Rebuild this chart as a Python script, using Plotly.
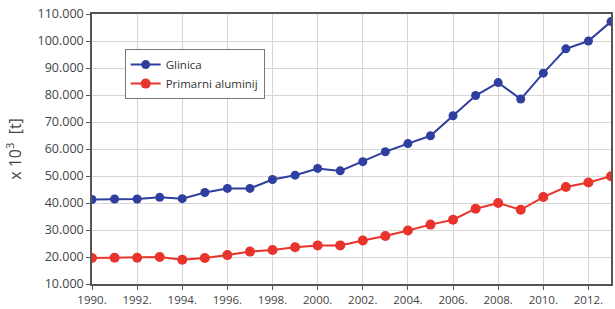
import plotly.graph_objects as go

years = list(range(1990, 2014))
glinica = [41300, 41500, 41500, 42100, 41600, 43900, 45400, 45400, 48700, 50300,
           52800, 51900, 55300, 59000, 62000, 64900, 72300, 79800, 84600, 78500,
           88100, 97100, 100000, 107200]
primarni = [19600, 19700, 19700, 20000, 19000, 19600, 20700, 22000, 22600, 23600,
            24300, 24300, 26100, 27800, 29800, 32000, 33800, 37900, 40000, 37500,
            42200, 45900, 47600, 49900]
x_ticks = list(range(1990, 2013, 2))
x_labels = [f"{y}." for y in x_ticks]
y_ticks = list(range(10000, 110001, 10000))
y_labels = [f"{v//1000}.000" for v in y_ticks]

fig = go.Figure()
fig.add_trace(go.Scatter(x=years, y=glinica, name="Glinica", mode="lines+markers",
                         line=dict(color="#2f3f9f", width=2),
                         marker=dict(color="#2f3f9f", size=9)))
fig.add_trace(go.Scatter(x=years, y=primarni, name="Primarni aluminij", mode="lines+markers",
                         line=dict(color="#e8342b", width=2),
                         marker=dict(color="#e8342b", size=10)))

fig.update_layout(
    width=615, height=309,
    margin=dict(l=92, r=2, t=14, b=25),
    paper_bgcolor="white", plot_bgcolor="white",
    font=dict(family="Open Sans, DejaVu Sans, sans-serif", color="#444", size=12),
    showlegend=True,
    legend=dict(x=0.063, y=0.87, xanchor="left", yanchor="top",
                bgcolor="white", bordercolor="#777", borderwidth=1,
                font=dict(size=11.5, color="#333"), tracegroupgap=0,
                itemwidth=30),
)
fig.update_xaxes(range=[1990, 2013], tickvals=x_ticks, ticktext=x_labels,
                 showgrid=True, gridcolor="#d6d6d6", gridwidth=1,
                 showline=True, linecolor="#555", linewidth=1.5, mirror=True,
                 ticks="outside", ticklen=4, tickcolor="#555", zeroline=False,
                 tickfont=dict(size=11.5))
fig.update_yaxes(range=[10000, 110000], tickvals=y_ticks, ticktext=y_labels,
                 showgrid=True, gridcolor="#d6d6d6", gridwidth=1,
                 showline=True, linecolor="#555", linewidth=1.5, mirror=True,
                 ticks="outside", ticklen=4, tickcolor="#555", zeroline=False,
                 tickfont=dict(size=12.5),
                 title=dict(text="x 10<sup>3</sup>  [t]", font=dict(size=16, color="#444"),
                            standoff=12))

fig.write_html("out.html", config={"displayModeBar": False},
               post_script="document.body.style.margin='0';")
